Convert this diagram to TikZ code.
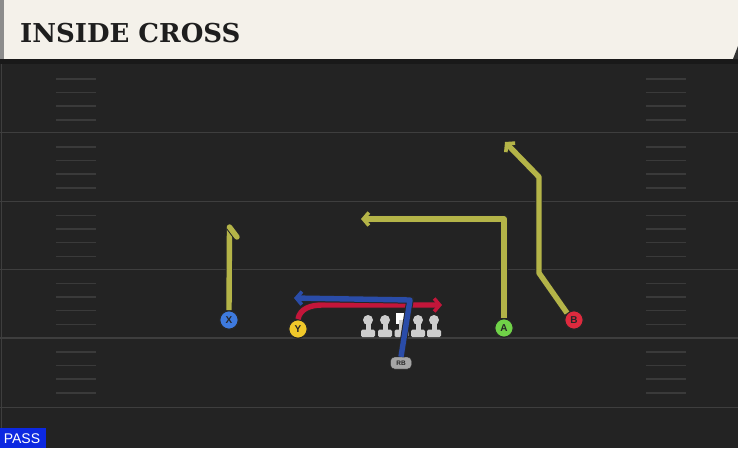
\documentclass[tikz,border=0pt]{standalone}
\usepackage{fontspec}
\setmainfont{DejaVu Serif}
\newfontfamily\titlefont{DejaVu Serif}
\newfontfamily\labelfont{Liberation Sans}
\usetikzlibrary{arrows.meta}

\definecolor{fieldbg}{RGB}{35,35,35}
\definecolor{yardline}{RGB}{62,62,62}
\definecolor{hashline}{RGB}{58,58,58}
\definecolor{titlebg}{RGB}{244,241,234}
\definecolor{titletext}{RGB}{30,30,30}
\definecolor{routeyel}{RGB}{180,180,72}
\definecolor{routered}{RGB}{195,22,58}
\definecolor{routeblue}{RGB}{42,76,168}
\definecolor{xblue}{RGB}{62,122,222}
\definecolor{yyellow}{RGB}{240,200,42}
\definecolor{agreen}{RGB}{112,210,72}
\definecolor{bred}{RGB}{222,42,62}
\definecolor{linegray}{RGB}{205,205,205}
\definecolor{passblue}{RGB}{12,40,225}

\tikzset{
  player/.style={circle, draw=black!85, line width=1.2pt, minimum size=18.5pt,
    inner sep=0pt, font=\labelfont\bfseries\normalsize, text=black!85},
  route/.style={line width=5.4pt, line join=round,
    preaction={draw=black!85, line width=7.4pt}},
  tip/.style={-{Straight Barb[length=5.5pt, width=13pt, line width=3.6pt]}}
}

\begin{document}
\begin{tikzpicture}[x=1pt, y=-1pt]
    \useasboundingbox (0,0) rectangle (738,448);

    % field
    \fill[fieldbg] (0,0) rectangle (738,448);
    \fill[black!90] (0,58) rectangle (738,64);

    % yard lines
    \draw[yardline, line width=1.8pt] (0,132.5) -- (738,132.5);
    \draw[yardline, line width=1.8pt] (0,201.5) -- (738,201.5);
    \draw[yardline, line width=1.8pt] (0,269.5) -- (738,269.5);
    \draw[yardline, line width=1.8pt] (0,338) -- (738,338);
    \draw[yardline, line width=1.8pt] (0,407.5) -- (738,407.5);
    \draw[yardline, line width=1pt] (1.5,64) -- (1.5,448);

    % hash marks
    \foreach \band in {65,133,201.5,269.5,338} {
      \foreach \off in {14,27.5,41,55} {
        \draw[hashline, line width=1.6pt] (56,\band+\off) -- (96,\band+\off);
        \draw[hashline, line width=1.6pt] (646,\band+\off) -- (686,\band+\off);
      }
    }

    % title bar
    \fill[titlebg] (4,0) rectangle (738,59);
    \fill[black!45] (0,0) rectangle (4,59);
    \fill[black!80] (738,46) -- (738,59) -- (733,59) -- cycle;
    \node[anchor=base west, text=titletext, inner sep=0pt,
      font=\titlefont\bfseries\fontsize{26}{26}\selectfont] (title) at (20,42.5) {INSIDE CROSS};

    % offensive line
    \fill[linegray] (368,320) circle (5);
    \fill[linegray] (385,320) circle (5);
    \fill[linegray] (418,320) circle (5);
    \fill[linegray] (434,320) circle (5);
    \fill[white] (395.5,313) rectangle (407.5,324);

    \fill[linegray] (365.5,320) rectangle (370.5,332);
    \fill[linegray] (382.5,320) rectangle (387.5,332);
    \fill[linegray] (399,320) rectangle (404,332);
    \fill[linegray] (415.5,320) rectangle (420.5,332);
    \fill[linegray] (431.5,320) rectangle (436.5,332);

    \fill[linegray, rounded corners=1.5pt] (361,329.5) rectangle (375,337);
    \fill[linegray, rounded corners=1.5pt] (378,329.5) rectangle (392,337);
    \fill[linegray, rounded corners=1.5pt] (394.5,329.5) rectangle (408.5,337);
    \fill[linegray, rounded corners=1.5pt] (411,329.5) rectangle (425,337);
    \fill[linegray, rounded corners=1.5pt] (427,329.5) rectangle (441,337);

    % players
    \node[player, fill=xblue] (x) at (229,320) {X};
    \node[player, fill=yyellow] (y) at (298,329) {Y};
    \node[player, fill=agreen] (a) at (504,328) {A};
    \node[player, fill=bred] (b) at (574,320) {B};
    \node[draw=black!85, fill=black!35, rounded corners=4pt, minimum width=21pt,
      minimum height=12pt, inner sep=0pt, font=\labelfont\bfseries\fontsize{6.5}{6.5}\selectfont,
      text=black!85] (rb) at (401,363) {RB};

    % routes
    \coordinate (xtop) at (229.5,227);
    \draw[route, routeyel] (x.north) -- (xtop);
    \draw[route, routeyel, line cap=round] (xtop) -- (237,237);

    \draw[route, routeyel, tip] (a.north) -- (504,219) -- (361,219);

    \draw[route, routeyel, tip] (b.north west) -- (539,273) -- (539,177) -- (505,142);

    \draw[route, routered, tip] (y.north) to[out=80, in=180] (322,305) -- (442,305);

    \draw[route, routeblue, tip] (rb.north) -- (410,300) -- (294,298);

    % play type
    \fill[passblue] (0,428) rectangle (46,448);
    \node[text=white, font=\labelfont\fontsize{14}{14}\selectfont, inner sep=0pt] (pass) at (22,439) {PASS};
\end{tikzpicture}
\end{document}
